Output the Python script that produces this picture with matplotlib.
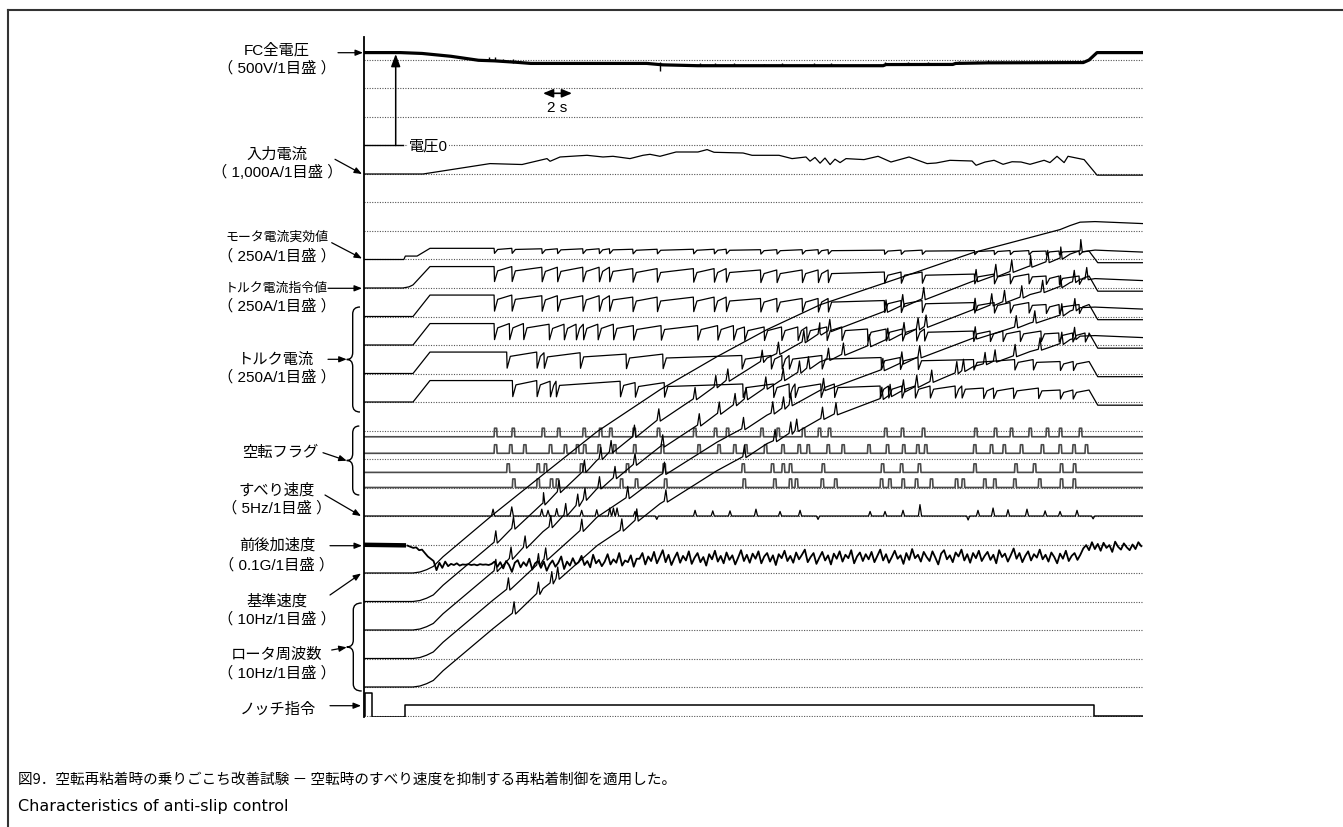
import numpy as np
import matplotlib
matplotlib.use('Agg')
import matplotlib.pyplot as plt
import matplotlib.transforms as mtransforms
from matplotlib.patches import FancyArrowPatch, PathPatch
from matplotlib.path import Path
from matplotlib.lines import Line2D

plt.rcParams['font.family'] = ['Noto Sans CJK JP', 'DejaVu Sans']
LABEL_FONT = ['Liberation Sans', 'Noto Sans CJK JP']

W, H = 1343, 827
T_END = 53.72          # record length [s]

# ---- FC total voltage [V] ----
FC_T = [0, 2.5, 4.0, 6.0, 7.9, 9.0, 10.5, 11.5, 19.5, 20.6, 23.0, 35.8, 36.0, 40.6, 40.8, 43.0, 49.6, 50.0, 50.55, T_END]
FC_V = [1630, 1630, 1615, 1565, 1495, 1485, 1460, 1440, 1440, 1415, 1400, 1400, 1420, 1422, 1440, 1450, 1455, 1500, 1630, 1630]
FC_SPK_T = [8.6, 9.0, 9.6, 10.3, 20.4, 23.2, 24.2, 25.5, 27.6, 28.8, 31.0, 32.2, 35.9, 36.8, 37.5, 38.9, 41.0, 42.3, 43.0, 44.0, 45.4, 46.4, 47.3, 48.1]
FC_SPK_LO = [1485, 1485, 1465, 1455, 1300, 1395, 1395, 1392, 1392, 1392, 1390, 1390, 1405, 1410, 1410, 1412, 1440, 1441, 1441, 1442, 1443, 1444, 1445, 1446]
FC_SPK_HI = [1545, 1545, 1525, 1515, 1470, 1440, 1450, 1440, 1435, 1440, 1445, 1450, 1470, 1450, 1460, 1465, 1490, 1480, 1500, 1485, 1480, 1490, 1475, 1480]

# ---- input current [A] ----
IIN_T = [0, 4.07, 8.69, 10.9, 12.62, 12.83, 13.52, 15.38, 16.48, 17.17, 18.34, 19.24, 19.72, 20.41, 21.52, 23.03, 23.66, 24.14,
         26.14, 26.76, 28.62, 29.52, 30.48, 30.76, 31.1, 31.45, 31.79, 32.14, 32.48, 32.83, 33.24, 34.48, 35.45, 36.34, 37.59,
         38.21, 38.83, 39.45, 40.41, 41.93, 42.21, 42.83, 43.45, 44.07, 44.69, 45.31, 45.93, 46.9, 47.3, 47.79, 48.28, 48.55,
         49.66, 50.55, T_END]
IIN_A = [0, 0, 365, 333, 540, 446, 597, 656, 597, 621, 540, 656, 691, 621, 772, 772, 856, 762,
         737, 656, 656, 540, 597, 450, 580, 380, 560, 330, 520, 400, 540, 505, 621, 421, 597,
         480, 365, 386, 480, 456, 305, 420, 481, 340, 430, 421, 340, 481, 400, 621, 400, 621,
         505, -40, -40]

# ---- slip (空転) events per motor [s] ----
FLAG1_T = [8.97, 10.19, 12.26, 13.33, 15.08, 16.21, 16.92, 18.53, 20.21, 22.71, 24.14, 24.97, 27.34, 28.46, 30.21,
           31.31, 32.0, 35.88, 37.03, 38.48, 42.09, 43.45, 44.55, 45.84, 47.03, 47.93, 49.31]
FLAG2_T = [8.97, 10.02, 10.99, 12.76, 13.79, 14.62, 15.12, 16.12, 17.19, 18.57, 20.48, 23.0, 24.38, 25.47, 26.23, 27.59,
           28.79, 29.91, 30.53, 31.91, 32.94, 34.72, 36.0, 37.12, 38.09, 38.64, 42.02, 43.17, 44.05, 45.24, 46.68, 47.91,
           48.86, 49.72]
FLAG3_T = [9.84, 11.91, 12.41, 14.9, 18.07, 20.6, 26.05, 28.07, 28.81, 29.31, 31.57, 35.66, 36.97, 38.2, 42.03, 44.86,
           46.14, 48.0, 48.9]
FLAG4_T = [10.23, 11.91, 12.83, 13.24, 17.66, 18.69, 20.7, 26.12, 28.23, 29.31, 29.72, 31.5, 32.43, 35.59, 36.16, 37.08,
           38.0, 39.03, 40.76, 41.22, 42.71, 43.4, 44.78, 46.5, 48.0, 48.88]

# ---- currents [A]: start-up ramps, level before each dip, switch-off ----
RMS_RISE_T, RMS_RISE_A = [0, 2.75, 2.85, 3.66, 4.55], [0, 0, 30, 30, 98]
CMD_RISE_T, CMD_RISE_A = [0, 2.69, 3.1, 3.38, 4.55], [0, 0, 10, 27, 188]
TQ_RISE_T, TQ_RISE_A = [0, 3.38, 4.55], [0, 0, 188]
TOP_T = [0, 12, 18, 26, 34, 42, 47]
RMS_TOP_A = [98, 94, 90, 86, 82, 78, 74]
TQ_TOP_A = [188, 182, 170, 158, 140, 122, 105]
OFF_T, OFF_A = (50.0, 50.6), -28

# ---- slip speed [Hz] ----
SLIP_T = [8.9, 10.19, 12.26, 12.69, 13.29, 15.01, 16.05, 16.95, 17.2, 17.45, 18.69, 20.19, 22.83, 24.05, 25.24, 27.03,
          28.69, 30.07, 31.31, 34.9, 35.93, 37.17, 38.34, 41.66, 42.34, 43.38, 44.41, 45.72, 46.97, 48.0, 49.17, 50.28]
SLIP_HZ = [1.2, 1.6, 1.2, 1.0, 1.3, 1.0, 1.1, 1.4, 1.4, 1.4, 0.8, -0.6, 1.0, 0.9, 0.9, 1.2,
           0.8, 1.0, -0.6, 0.8, 0.8, 1.0, 2.0, -0.7, 1.0, 1.4, 1.1, 1.2, 0.9, 0.8, 1.0, -0.5]

# ---- longitudinal acceleration [mG], sampled every 0.2 s from 3.0 s ----
ACC_HEAD_T, ACC_HEAD = [0, 2.9], [-1, -3]
ACC_T0, ACC_DT = 3.0, 0.2
ACC = [-4, -8, -12, -10, -20, -18, -30, -42, -50, -58,
       -90, -64, -82, -60, -76, -68, -72, -66, -74, -70,
       -71, -69, -72, -70, -73, -69, -71, -70, -72, -68,
       -60, -78, -62, -84, -58, -72, -96, -64, -55, -80,
       -62, -75, -50, -88, -66, -58, -82, -60, -92, -70,
       -56, -78, -64, -42, -86, -60, -74, -48, -70, -62,
       -40, -72, -58, -80, -36, -66, -54, -76, -60, -34,
       -70, -52, -64, -30, -74, -56, -62, -38, -78, -50,
       -50, -30, -70, -42, -58, -26, -66, -44, -20, -62,
       -36, -72, -48, -28, -64, -40, -56, -24, -68, -46,
       -30, -62, -44, -74, -34, -52, -22, -60, -40, -66,
       -28, -54, -38, -70, -46, -20, -58, -36, -64, -32,
       -50, -24, -66, -42, -30, -60, -38, -72, -34, -48,
       -22, -58, -40, -64, -28, -52, -36, -18, -62, -44,
       -30, -68, -46, -26, -56, -38, -70, -32, -50, -24,
       -60, -36, -48, -20, -66, -42, -28, -58, -34, -52,
       -26, -62, -40, -18, -56, -34, -64, -44, -22, -50,
       -38, -68, -30, -54, -16, -48, -36, -60, -26, -44,
       -58, -24, -46, -70, -32, -20, -52, -38, -62, -28,
       -42, -18, -56, -34, -64, -30, -48, -22, -58, -40,
       -26, -54, -36, -66, -20, -44, -32, -60, -38, -14,
       -50, -30, -62, -40, -24, -56, -34, -46, -18, -52,
       -36, -60, -28, -44, -66, -32, -50, -22, -58, -40,
       -30, -54, -36, -14, -2, -20, 8, -16, 2, -22,
       6, -12, -2, -26, 10, -8, -18, 4, -10, -20,
       0, -16, 8, -6]

# ---- reference speed [Hz] ----
REF_T = [0, 3.38, 3.86, 4.32, 4.78, 5.45, 8.9, 12.34, 16.07, 20.41, 24.34, 27.79, 31.45, 36.97, 42.0, 45.93, 48.0,
         48.69, 49.38, 50.41, T_END]
REF_HZ = [0, 0, 0.35, 1.16, 2.3, 5.7, 20.5, 34.5, 49.6, 64.3, 75.9, 85.4, 94.1, 103.6, 112.4, 117.7, 120.5,
          121.9, 123.1, 123.3, 122.6]

# rotor frequency at the start of each slip [Hz]
ROTOR1_JAG = [20.8, 25.7, 34.2, 38.5, 45.6, 50.1, 52.5, 57.9, 63.6, 71.1, 75.3, 77.6, 84.2, 87.0, 91.1,
              93.8, 95.0, 101.8, 103.7, 106.2, 112.5, 114.3, 115.8, 117.6, 119.2, 120.4, 123.0]
ROTOR2_JAG = [20.8, 25.1, 29.0, 36.2, 40.4, 43.7, 45.8, 49.8, 53.4, 58.1, 64.5, 71.9, 76.0, 79.0, 81.1, 84.8,
              87.8, 90.4, 91.9, 94.9, 96.7, 99.7, 101.9, 103.9, 105.6, 106.5, 112.4, 114.0, 115.2, 116.8, 118.7, 120.4,
              122.2, 123.2]
ROTOR3_JAG = [24.3, 32.8, 34.8, 44.9, 56.4, 64.9, 80.6, 86.1, 87.8, 89.0, 94.3, 101.3, 103.6, 105.8, 112.4, 116.3,
              118.0, 120.5, 122.3]
ROTOR4_JAG = [25.9, 32.8, 36.5, 38.1, 55.0, 58.5, 65.2, 80.8, 86.4, 89.0, 90.0, 94.2, 95.8, 101.2, 102.2, 103.8,
              105.4, 107.2, 110.2, 111.0, 113.4, 114.3, 116.2, 118.5, 120.5, 122.2]

# ---- notch command (levels in divisions) ----
NOTCH_T = [0, 0.08, 0.08, 0.55, 0.55, 2.83, 2.83, 50.35, 50.35, T_END]
NOTCH_LV = [0, 0, 0.79, 0.79, -0.04, -0.04, 0.37, 0.37, 0, 0]


def current_trace(rise_t, rise_a, events, top_a, dip, rec):
    ts, vs = list(rise_t), list(rise_a)
    for te in events:
        top = top_a[np.searchsorted(TOP_T, te, side='right') - 1]
        ts += [te, te + 0.03, te + 0.25]
        vs += [top, top * dip, top * rec]
    ts += [OFF_T[0], OFF_T[1], T_END]
    vs += [top_a[-1], OFF_A, OFF_A]
    return np.array(ts), np.array(vs)


def rotor_trace(jag_t, jag_hz):
    pts = list(zip(REF_T, REF_HZ))
    for te, b in zip(jag_t, jag_hz):
        pts += [(te, b), (te + 0.12, b + 4.0), (te + 0.22, b - 0.3)]
    pts.sort()
    return np.array([p[0] for p in pts]), np.array([p[1] for p in pts])


def flag_trace(events):
    ts, vs = [0], [0]
    for te in events:
        ts += [te, te + 0.03, te + 0.18, te + 0.21]
        vs += [0, 1, 1, 0]
    ts.append(T_END)
    vs.append(0)
    return np.array(ts), np.array(vs)


def slip_trace(events, heights):
    ts, vs = [0], [0]
    for te, h in zip(events, heights):
        ts += [te - 0.11, te, te + 0.11]
        vs += [0, h, 0]
    ts.append(T_END)
    vs.append(0)
    return np.array(ts), np.array(vs)


fig = plt.figure(figsize=(W / 100, H / 100), dpi=100)
pix = mtransforms.Affine2D().scale(1 / W, -1 / H).translate(0, 1) + fig.transFigure

ax = fig.add_axes([364 / W, 1 - 717 / H, (1143 - 364) / W, (717 - 37) / H])
ax.set_xlim(0, T_END)
ax.set_ylim(-0.0526, 23.807)
for s in ['top', 'right', 'bottom']:
    ax.spines[s].set_visible(False)
ax.spines['left'].set_linewidth(1.3)
ax.set_xticks([])
ax.set_yticks([])

for k in range(24):
    ax.plot([0, T_END], [k, k], color='#555555', lw=0.8, ls=(0, (1, 1.3)), zorder=1)

LW = 0.9
# FC voltage, 500 V/div, zero at div 20
ax.plot([0, 2.69], [20, 20], color='k', lw=1.0)
ax.plot(FC_T, 20 + np.array(FC_V) / 500, color='k', lw=2.3, solid_joinstyle='round')
ax.vlines(FC_SPK_T, 20 + np.array(FC_SPK_LO) / 500, 20 + np.array(FC_SPK_HI) / 500, color='k', lw=1.0)

# input current, 1000 A/div, zero at div 19
ax.plot(IIN_T, 19 + np.array(IIN_A) / 1000, color='k', lw=LW)

# motor RMS current, torque current command, torque currents (250 A/div)
t, v = current_trace(RMS_RISE_T, RMS_RISE_A, FLAG1_T, RMS_TOP_A, 0.55, 0.9)
ax.plot(t, 16 + v / 250, color='k', lw=LW)
t, v = current_trace(CMD_RISE_T, CMD_RISE_A, FLAG1_T, TQ_TOP_A, 0.3, 0.8)
ax.plot(t, 15 + v / 250, color='k', lw=LW)
for zero, ev in zip([14, 13, 12, 11], [FLAG1_T, FLAG2_T, FLAG3_T, FLAG4_T]):
    t, v = current_trace(TQ_RISE_T, TQ_RISE_A, ev, TQ_TOP_A, 0.25, 0.8)
    ax.plot(t, zero + v / 250, color='k', lw=LW)

# slip flags
for base, ev in zip([9.78, 9.2, 8.53, 8.0], [FLAG1_T, FLAG2_T, FLAG3_T, FLAG4_T]):
    t, v = flag_trace(ev)
    ax.plot(t, base + 0.3 * v, color='#4a4a4a', lw=1.2)

# slip speed, 5 Hz/div, zero at div 7
t, v = slip_trace(SLIP_T, SLIP_HZ)
ax.plot(t, 7 + v / 5, color='k', lw=LW)

# acceleration, 0.1 G/div, zero at div 6
ax.plot(ACC_HEAD_T, 6 + np.array(ACC_HEAD) / 100, color='k', lw=3.2, solid_capstyle='butt')
acc_t = ACC_T0 + ACC_DT * np.arange(len(ACC))
ax.plot(acc_t, 6 + np.array(ACC) / 100, color='k', lw=1.3)

# reference speed and rotor frequencies, 10 Hz/div
ax.plot(REF_T, 5 + np.array(REF_HZ) / 10, color='k', lw=LW)
for zero, ev, jag in zip([4, 3, 2, 1], [FLAG1_T, FLAG2_T, FLAG3_T, FLAG4_T],
                         [ROTOR1_JAG, ROTOR2_JAG, ROTOR3_JAG, ROTOR4_JAG]):
    t, v = rotor_trace(ev, jag)
    ax.plot(t, zero + v / 10, color='k', lw=LW)

# notch command
ax.plot(NOTCH_T, NOTCH_LV, color='k', lw=1.1)

# ---- annotations (pixel coordinates) ----
labels = [("FC全電圧", 277, 50, 11), ("（ 500V/1目盛 ）", 277, 68.3, 11),
          ("入力電流", 277, 155, 11), ("（ 1,000A/1目盛 ）", 277, 172.7, 11),
          ("モータ電流実効値", 277, 237.3, 9.3), ("（ 250A/1目盛 ）", 277, 256, 11),
          ("トルク電流指令値", 276, 288.3, 9.3), ("（ 250A/1目盛 ）", 277, 306, 11),
          ("トルク電流", 276, 359.3, 11), ("（ 250A/1目盛 ）", 277, 377.7, 11),
          ("空転フラグ", 280, 452.7, 11),
          ("すべり速度", 277, 490, 11), ("（ 5Hz/1目盛 ）", 277, 508.3, 11),
          ("前後加速度", 277, 545.7, 11), ("（ 0.1G/1目盛 ）", 277, 565, 11),
          ("基準速度", 277, 601, 11), ("（ 10Hz/1目盛 ）", 277, 619, 11),
          ("ロータ周波数", 277, 655, 11), ("（ 10Hz/1目盛 ）", 277, 673.3, 11),
          ("ノッチ指令", 278, 710, 11)]
for s, x, y, size in labels:
    fig.text(x, y, s, transform=pix, ha='center', va='center', fontsize=size, family=LABEL_FONT)

arrows = [(338, 52.7, 363, 52.7), (335, 159.3, 362, 174), (331.7, 242.7, 362, 258.5),
          (328, 288.3, 362, 288.3), (328, 359.3, 346.7, 359.3), (323, 452.7, 346.7, 460.7),
          (325, 495, 361, 516), (330, 545.7, 362, 545.7), (330, 595, 361, 573.5),
          (331.7, 650, 346.7, 647.3), (330, 705.7, 361, 705.7)]
for x1, y1, x2, y2 in arrows:
    fig.add_artist(FancyArrowPatch((x1, y1), (x2, y2), transform=pix, color='k', lw=0.9,
                                   arrowstyle='-|>,head_length=0.45,head_width=0.18',
                                   mutation_scale=10, shrinkA=0, shrinkB=0))


def brace(xe, xm, xt, y1, y2, r=7):
    ym = (y1 + y2) / 2
    verts = [(xe, y1), (xm, y1), (xm, y1 + r), (xm, ym - r), (xm, ym), (xt, ym), (xm, ym),
             (xm, ym + r), (xm, y2 - r), (xm, y2), (xe, y2)]
    codes = [Path.MOVETO, Path.CURVE3, Path.CURVE3, Path.LINETO, Path.CURVE3, Path.CURVE3,
             Path.CURVE3, Path.CURVE3, Path.LINETO, Path.CURVE3, Path.CURVE3]
    fig.add_artist(PathPatch(Path(verts, codes), transform=pix, fill=False, ec='k', lw=1.0))


brace(360, 352.7, 346.7, 307, 412)
brace(359.3, 352.7, 346.7, 426, 495)
brace(361.7, 353.3, 346.7, 603, 691)

# voltage zero marker
fig.add_artist(FancyArrowPatch((395.7, 145.5), (395.7, 54), transform=pix, color='k', lw=1.1,
                               arrowstyle='-|>,head_length=0.75,head_width=0.28',
                               mutation_scale=10, shrinkA=0, shrinkB=0))
fig.text(409, 146, "電圧0", transform=pix, ha='left', va='center', fontsize=11, family=LABEL_FONT,
         bbox=dict(facecolor='white', edgecolor='none', pad=1.0))

# 2 s time mark
fig.add_artist(FancyArrowPatch((543, 93.3), (572, 93.3), transform=pix, color='k', lw=1.2,
                               arrowstyle='<|-|>,head_length=0.6,head_width=0.25',
                               mutation_scale=10, shrinkA=0, shrinkB=0))
fig.text(557, 108, "2 s", transform=pix, ha='center', va='center', fontsize=11, family=LABEL_FONT)

# frame and caption
fig.add_artist(Line2D([8, W], [10, 10], transform=pix, color='#333333', lw=1.5))
fig.add_artist(Line2D([8, 8], [10, H], transform=pix, color='#333333', lw=1.5))
fig.text(18, 780, "図9．空転再粘着時の乗りごこち改善試験 － 空転時のすべり速度を抑制する再粘着制御を適用した。",
         transform=pix, ha='left', va='center', fontsize=10.5)
fig.text(18, 807, "Characteristics of anti-slip control", transform=pix, ha='left', va='center',
         fontsize=11.5, family=['DejaVu Sans'])

fig.savefig('out.png', dpi=100, facecolor='white')
